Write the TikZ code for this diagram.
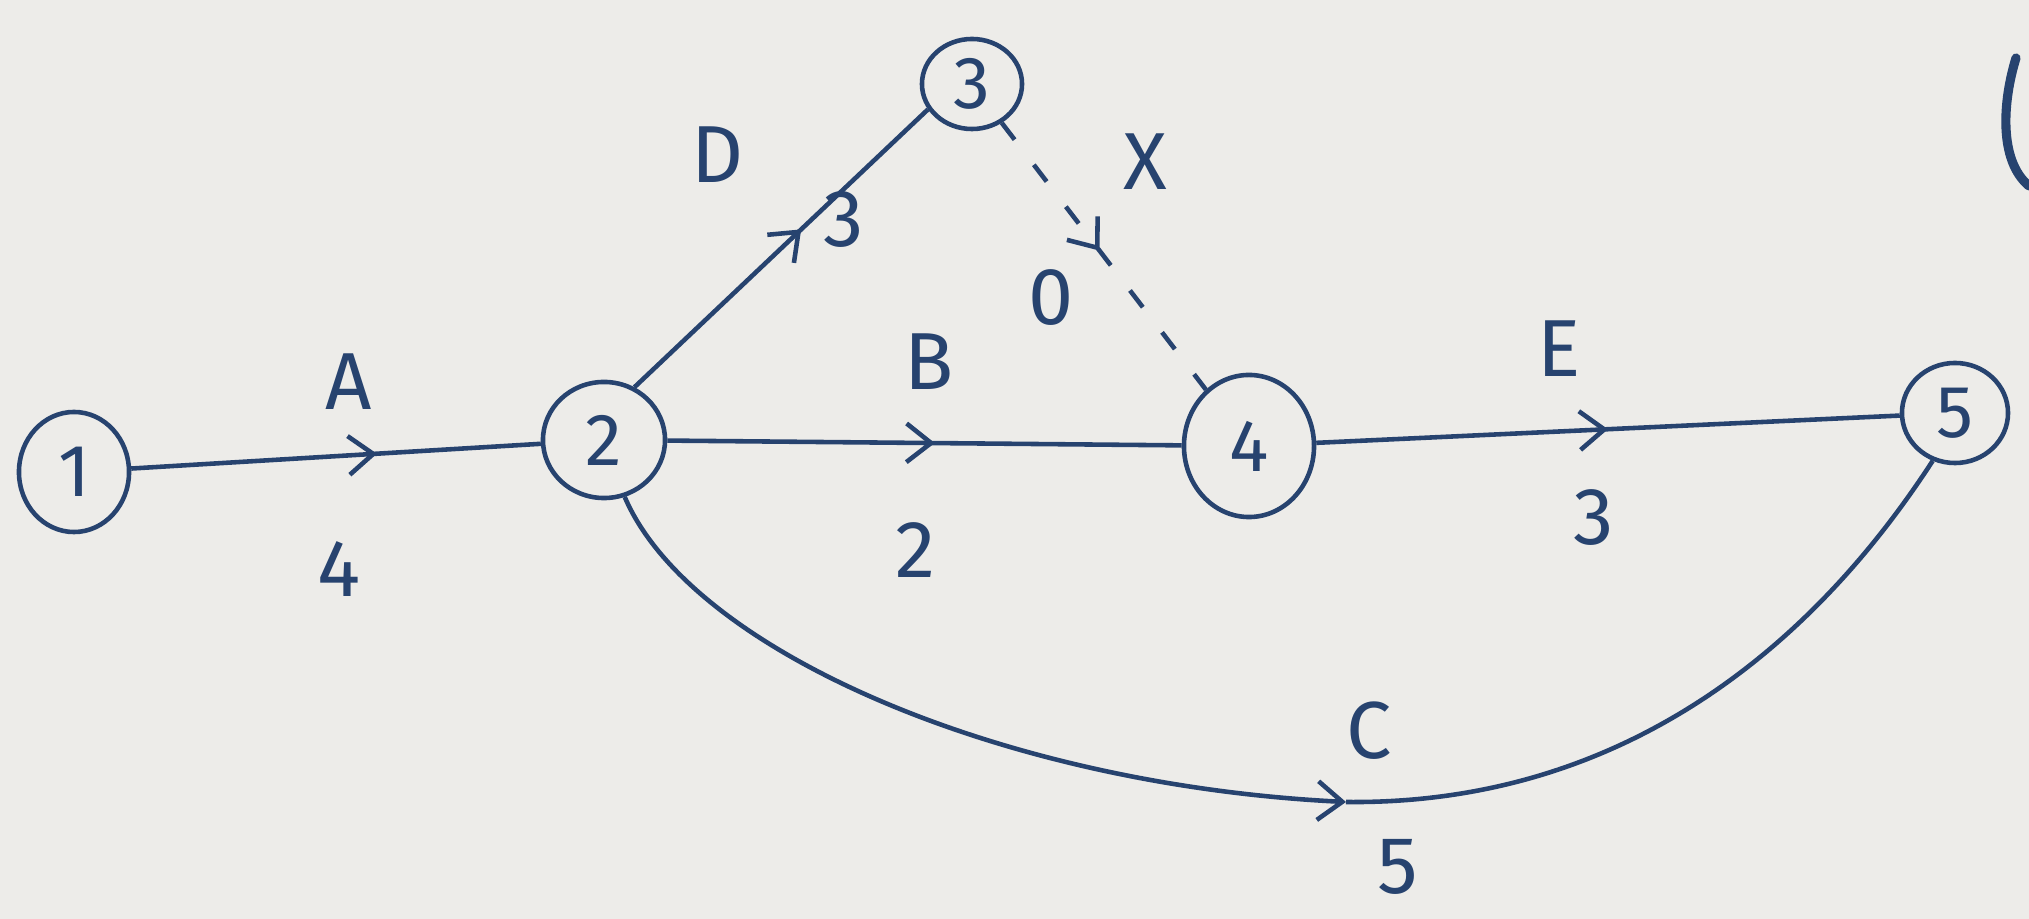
\documentclass[tikz,border=0pt]{standalone}
\usepackage{fontspec}
\setmainfont{Fira Sans}
\usetikzlibrary{shapes.geometric,arrows.meta,decorations.markings}
\definecolor{ink}{HTML}{27436F}
\definecolor{paper}{HTML}{EDECE9}
\begin{document}
\begin{tikzpicture}[x=0.01cm,y=-0.01cm,
  ev/.style={ellipse, draw=ink, line width=1.3pt, inner sep=0pt, text=ink, font=\fontsize{21}{24}\selectfont},
  lbl/.style={text=ink, font=\fontsize{23}{27}\selectfont},
  edge/.style={draw=ink, line width=1.3pt},
  barb/.style={-{Straight Barb[length=7pt,width=11pt,line width=1.3pt]}},
  midarrow/.style={postaction={decorate, decoration={markings, mark=at position #1 with {\arrow{Straight Barb[length=7pt,width=11pt,line width=1.3pt]}}}}}]
\fill[paper] (0,0) rectangle (2029,919);
\useasboundingbox (0,0) rectangle (2029,919);
% events
\node[ev, minimum width=1.1cm, minimum height=1.2cm] (n1) at (74,472) {1};
\node[ev, minimum width=1.22cm, minimum height=1.16cm] (n2) at (604,440) {2};
\node[ev, minimum width=1.0cm, minimum height=0.9cm] (n3) at (972,84) {3};
\node[ev, minimum width=1.3cm, minimum height=1.42cm] (n4) at (1249,446) {4};
\node[ev, minimum width=1.06cm, minimum height=1.0cm] (n5) at (1955,413) {5};
% activities
\draw[edge, midarrow=0.6] (n1) -- (n2);
\draw[edge, midarrow=0.57] (n2.60) -- (n3.210);
\draw[edge, midarrow=0.52] (n2) -- (n4);
\draw[edge, dash pattern=on 6pt off 9pt, midarrow=0.48] (n3) -- (n4);
\draw[edge, midarrow=0.5] (n4) -- (n5);
\coordinate (cm) at (1346,802);
\draw[edge, barb] (n2.-70) .. controls (690,650) and (1000,785) .. (cm);
\draw[edge] (cm) .. controls (1620,805) and (1810,650) .. (n5.-115);
% labels
\node[lbl] (lA) at (349,382) {A};
\node[lbl] (l4) at (339,569) {4};
\node[lbl] (lD) at (718,155) {D};
\node[lbl] (l3a) at (844,220) {3};
\node[lbl] (lX) at (1145,162) {X};
\node[lbl] (l0) at (1051,298) {0};
\node[lbl] (lB) at (929,362) {B};
\node[lbl] (l2) at (916,550) {2};
\node[lbl] (lE) at (1559,349) {E};
\node[lbl] (l3b) at (1594,518) {3};
\node[lbl] (lC) at (1369,731) {C};
\node[lbl] (l5) at (1398,867) {5};
% partial stroke at top right
\draw[ink, line width=2.6pt, line cap=round] (2016,58) .. controls (2003,100) and (1998,160) .. (2029,186);
\end{tikzpicture}
\end{document}
